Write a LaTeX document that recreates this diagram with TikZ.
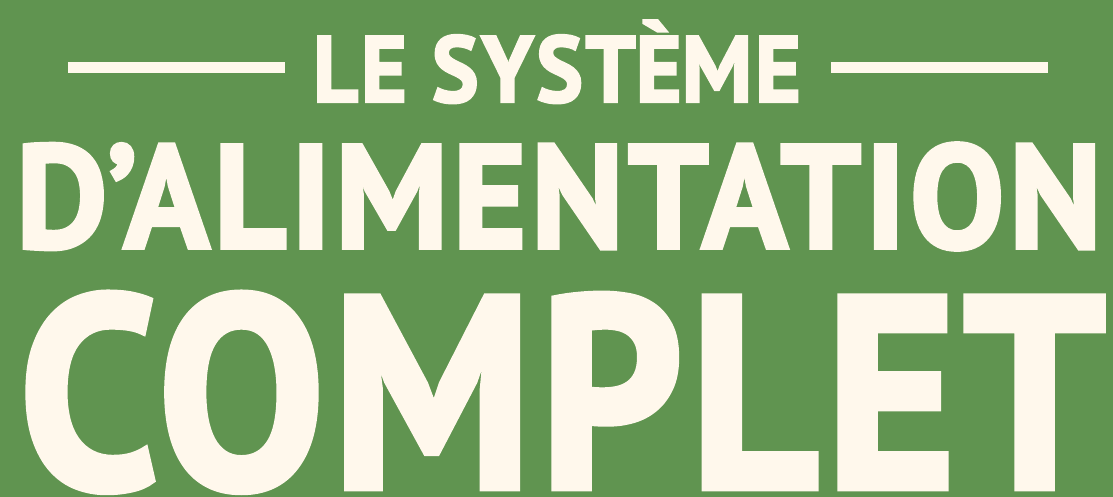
\documentclass[tikz,border=0pt]{standalone}
\usepackage{fontspec}
\setmainfont{PT Sans}
\newfontfamily\titlefont{PT Sans}[BoldFeatures={FakeBold=2.5}, LetterSpace=3]
\usepackage{xcolor}
\usepackage{graphicx}
\usetikzlibrary{positioning}

\definecolor{leafgreen}{HTML}{609450}
\definecolor{cream}{HTML}{FFF8EC}

\tikzset{
    titletext/.style={inner sep=0pt, outer sep=0pt, text=cream, font=\titlefont\bfseries, anchor=base west},
    rule/.style={cream, line width=0.11cm}
}

\begin{document}
\begin{tikzpicture}
    % Background
    \fill[leafgreen] (0,0) rectangle (11.13,4.97);
    \useasboundingbox (0,0) rectangle (11.13,4.97);

    % Top line
    \node[titletext] (le) at (3.13,3.95)
        {\resizebox{4.88cm}{0.67cm}{LE SYST\smash{È}ME}};

    % Middle line
    \node[titletext] (alim) at (0.16,2.49)
        {\resizebox{10.86cm}{1.05cm}{D’ALIMENTATION}};

    % Bottom line
    \node[titletext] (complet) at (0.19,0.09)
        {\resizebox{10.86cm}{1.95cm}{COMPLET}};

    % Rules either side of the top line
    \coordinate (ruleLa) at (0.68,4.295);
    \coordinate (ruleLb) at (2.85,4.295);
    \coordinate (ruleRa) at (8.31,4.295);
    \coordinate (ruleRb) at (10.48,4.295);
    \draw[rule] (ruleLa) -- (ruleLb);
    \draw[rule] (ruleRa) -- (ruleRb);
\end{tikzpicture}
\end{document}
